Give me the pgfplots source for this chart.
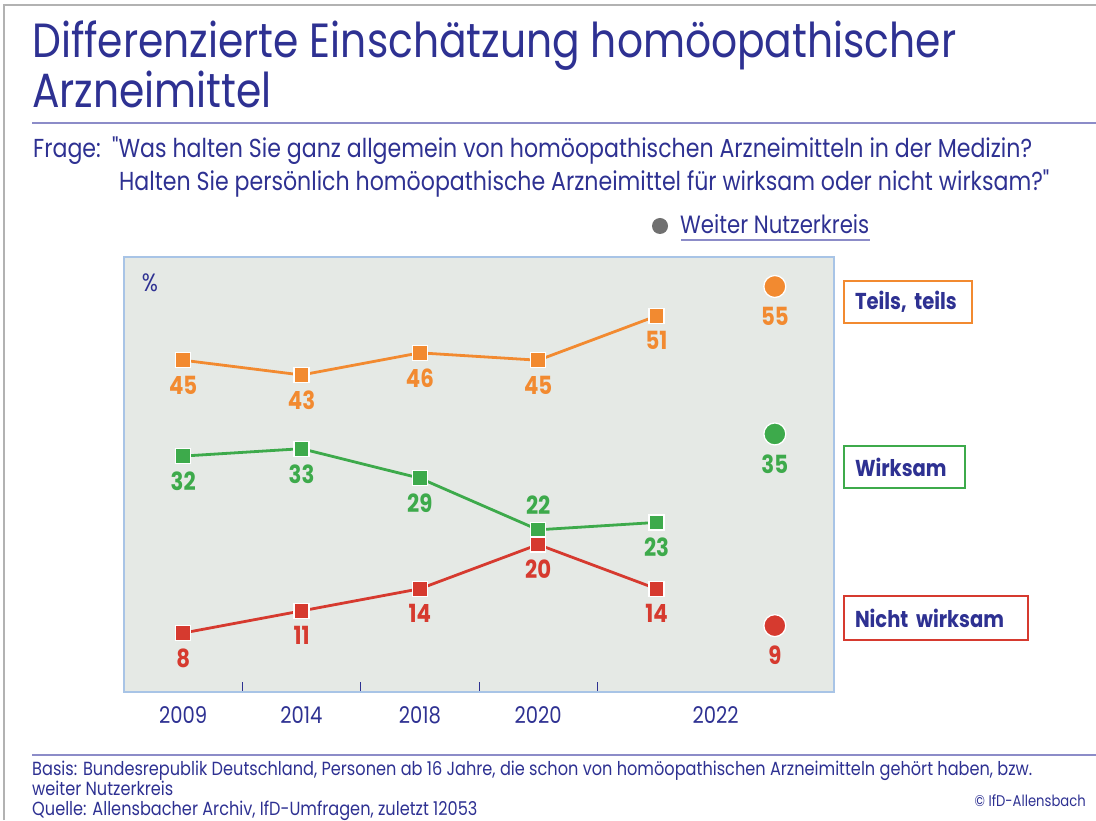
\documentclass[border=0pt]{standalone}
\usepackage{pgfplots}
\pgfplotsset{compat=1.18}
\usepackage{fontspec}
\setmainfont{Poppins}[FakeStretch=0.85, Ligatures=TeXOff]
\definecolor{navy}{HTML}{2E3192}
\definecolor{cor}{HTML}{F28A30}
\definecolor{cgr}{HTML}{3DAA4B}
\definecolor{cre}{HTML}{D63A2F}
\definecolor{bgc}{HTML}{E5E9E5}
\definecolor{axc}{HTML}{A8C4E6}
\definecolor{lav}{HTML}{8C8CC8}
\definecolor{gcirc}{HTML}{707070}
\newcommand{\fs}[1]{\fontsize{#1}{#1}\selectfont}
\begin{document}
\begin{tikzpicture}[x=1pt,y=1pt]
\useasboundingbox (0,0) rectangle (1096,820);
\draw[gray!60, line width=1.5] (4,0) -- (4,815) -- (1096,815);
% title
\node[anchor=base west, inner sep=0, text=navy, font=\fs{48}] at (32,820-58) {Differenzierte Einschätzung homöopathischer};
\node[anchor=base west, inner sep=0, text=navy, font=\fs{48}] at (32,820-108) {Arzneimittel};
\draw[lav, line width=2] (32,820-123) -- (1096,820-123);
\node[anchor=base west, inner sep=0, text=navy, font=\fs{26}] at (33,820-158) {Frage:};
\node[anchor=base west, inner sep=0, text=navy, font=\fs{26}] at (112,820-158) {"Was halten Sie ganz allgemein von homöopathischen Arzneimitteln in der Medizin?};
\node[anchor=base west, inner sep=0, text=navy, font=\fs{26}] at (119,820-191) {Halten Sie persönlich homöopathische Arzneimittel für wirksam oder nicht wirksam?"};
% legend
\fill[gcirc] (660,820-226) circle (8);
\node[anchor=base west, inner sep=0, text=navy, font=\fs{25}] at (680,820-234) {Weiter Nutzerkreis};
\draw[lav, line width=1.5] (681,820-240) -- (870,820-240);
% footer
\draw[lav, line width=2] (32,820-755) -- (1096,820-755);
\node[anchor=base west, inner sep=0, text=navy, font=\fs{19}] at (32,820-776) {Basis: Bundesrepublik Deutschland, Personen ab 16 Jahre, die schon von homöopathischen Arzneimitteln gehört haben, bzw.};
\node[anchor=base west, inner sep=0, text=navy, font=\fs{19}] at (32,820-796) {weiter Nutzerkreis};
\node[anchor=base west, inner sep=0, text=navy, font=\fs{19}] at (32,820-815) {Quelle: Allensbacher Archiv, IfD-Umfragen, zuletzt 12053};
\node[anchor=base east, inner sep=0, text=navy, font=\fs{15.5}] at (1086,820-807) {© IfD-Allensbach};
% category boxes
\node[draw=cor, line width=2, fill=white, anchor=west, minimum height=42, text width=106, inner xsep=11, text=navy, font=\fs{23}\bfseries] at (843,820-302) {Teils, teils};
\node[draw=cgr, line width=2, fill=white, anchor=west, minimum height=42, text width=99, inner xsep=11, text=navy, font=\fs{23}\bfseries] at (843,820-467) {Wirksam};
\node[draw=cre, line width=2, fill=white, anchor=west, minimum height=44, text width=162, inner xsep=11, text=navy, font=\fs{23}\bfseries] at (843,820-618) {Nicht wirksam};
\begin{axis}[
  at={(124pt,128pt)}, anchor=south west,
  scale only axis, width=710pt, height=435pt,
  xmin=-0.5, xmax=5.5, ymin=0, ymax=59,
  /pgf/number format/assume math mode=true,
  axis background/.style={fill=bgc},
  axis line style={draw=axc, line width=1.2},
  ytick=\empty,
  xtick={0.5,1.5,2.5,3.5}, xticklabels={},
  tick pos=bottom, tick align=inside,
  major tick length=10pt,
  x tick style={draw=navy, line width=1},
  extra x ticks={0,1,2,3,4.5},
  extra x tick labels={2009,2014,2018,2020,2022},
  extra x tick style={major tick length=0pt, tick style={draw=none}},
  xticklabel style={text=navy, font=\fs{23}, inner sep=0pt, yshift=-14pt},
  clip=false,
  nodes near coords,
  every node near coord/.append style={anchor=north, yshift=-15pt, inner sep=0pt, font=\fs{25}\bfseries},
]
\node[anchor=center, text=navy, font=\fs{25}, inner sep=0] at (axis cs:-0.28,55.5) {\%};
% Teils, teils
\addplot[cor, line width=2.8, mark=square*, mark size=7.5pt, mark options={draw=white, line width=1.3, fill=cor},
  every node near coord/.append style={text=cor}]
  coordinates {(0,45) (1,43) (2,46) (3,45) (4,51)};
\addplot[only marks, mark=*, mark size=11pt, mark options={draw=white, line width=1.3, fill=cor},
  every node near coord/.append style={text=cor, yshift=-5pt}]
  coordinates {(5,55)};
% Wirksam
\addplot[cgr, line width=2.8, mark=square*, mark size=7.5pt, mark options={draw=white, line width=1.3, fill=cgr},
  every node near coord/.append style={text=cgr},
  coordinate style/.condition={x==3}{yshift=50pt}]
  coordinates {(0,32) (1,33) (2,29) (3,22) (4,23)};
\addplot[only marks, mark=*, mark size=11pt, mark options={draw=white, line width=1.3, fill=cgr},
  every node near coord/.append style={text=cgr, yshift=-5pt}]
  coordinates {(5,35)};
% Nicht wirksam
\addplot[cre, line width=2.8, mark=square*, mark size=7.5pt, mark options={draw=white, line width=1.3, fill=cre},
  every node near coord/.append style={text=cre}]
  coordinates {(0,8) (1,11) (2,14) (3,20) (4,14)};
\addplot[only marks, mark=*, mark size=11pt, mark options={draw=white, line width=1.3, fill=cre},
  every node near coord/.append style={text=cre, yshift=-5pt}]
  coordinates {(5,9)};
\end{axis}
\end{tikzpicture}
\end{document}
